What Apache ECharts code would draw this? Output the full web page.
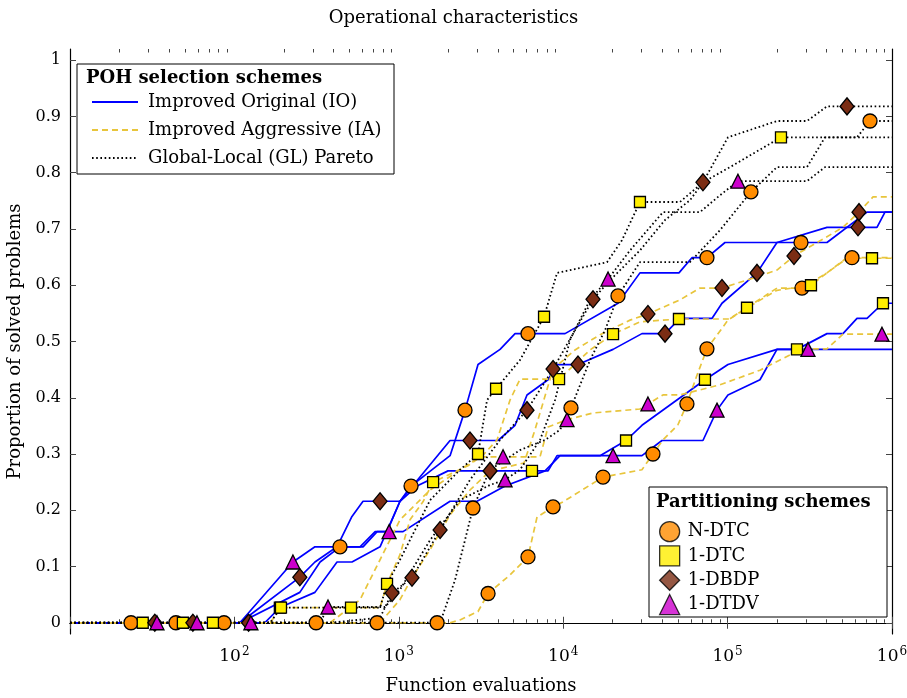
<!DOCTYPE html>
<html>
<head>
<meta charset="utf-8">
<script src="https://cdn.jsdelivr.net/npm/echarts@6/dist/echarts.min.js"></script>
<style>
  html, body { margin: 0; padding: 0; background: #fff; }
  #chart { width: 907px; height: 698px; }
</style>
</head>
<body>
<div id="chart"></div>
<script>
// Proportion of solved problems vs. function evaluations, one curve per
// POH selection scheme (line style) and partitioning scheme (marker).

const yTickValues = [0, 0.1, 0.2, 0.3, 0.4, 0.5, 0.6, 0.7, 0.8, 0.9, 1];
const xMajorTicks = [10, 100, 1000, 10000, 100000, 1000000];
const xTickLabels = [100, 1000, 10000, 100000, 1000000];

// Improved Original (IO)
const ioNdtc = [[10,0],[23.5,0],[108,0],[250,0.054],[332,0.108],[439,0.135],[606,0.135],[738,0.162],[848,0.162],[1017,0.216],[1187,0.243],[2050,0.297],[2528,0.378],[3033,0.459],[4130,0.486],[5095,0.514],[6107,0.514],[10265,0.514],[21540,0.568],[29300,0.622],[50590,0.622],[60680,0.649],[74890,0.649],[96430,0.676],[279500,0.676],[402300,0.676],[704800,0.730],[1e6,0.730]];
const ioNdtcMarks = [1,5,10,12,16,22,24];
const ioDtc = [[10,0],[27.7,0],[153,0],[189,0.027],[309,0.054],[421,0.108],[519,0.108],[769,0.135],[1017,0.216],[1290,0.243],[1993,0.270],[6458,0.270],[8090,0.270],[9176,0.297],[16750,0.297],[24110,0.324],[30130,0.351],[72830,0.432],[100500,0.459],[199700,0.486],[264300,0.486],[402300,0.514],[503300,0.514],[612500,0.541],[704800,0.541],[881300,0.568],[1e6,0.568]];
const ioDtcMarks = [1,3,11,15,17,20,25];
const ioDbdp = [[10,0],[32.8,0],[108,0],[250,0.081],[309,0.108],[421,0.135],[519,0.189],[606,0.216],[769,0.216],[1017,0.216],[2050,0.324],[2710,0.324],[4016,0.324],[5095,0.351],[6022,0.405],[8090,0.432],[9176,0.459],[12300,0.459],[20100,0.486],[30130,0.514],[41620,0.514],[51300,0.541],[80320,0.541],[92450,0.568],[150900,0.622],[199700,0.676],[402300,0.703],[621200,0.703],[810200,0.703],[906300,0.730],[1e6,0.730]];
const ioDbdpMarks = [1,3,8,11,17,20,24,27];
const ioDtdv = [[10,0],[33.8,0],[108,0],[227,0.108],[309,0.135],[581,0.135],[718,0.162],[873,0.162],[1061,0.162],[2050,0.216],[2991,0.216],[4430,0.243],[7755,0.270],[9570,0.297],[20100,0.297],[30130,0.297],[39900,0.324],[70810,0.324],[86200,0.378],[100500,0.405],[157400,0.432],[199700,0.486],[308200,0.486],[1e6,0.486]];
const ioDtdvMarks = [1,3,7,14,18,22];

// Improved Aggressive (IA)
const iaNdtc = [[10,0],[44.1,0],[314,0],[737,0],[1710,0],[2050,0],[2357,0.005],[3033,0.02],[3491,0.052],[4750,0.085],[6107,0.117],[6933,0.188],[8090,0.2],[8677,0.206],[9981,0.215],[17470,0.259],[30130,0.272],[35150,0.3],[40460,0.325],[49880,0.352],[56570,0.389],[65110,0.44],[74890,0.487],[100500,0.538],[199700,0.595],[283400,0.595],[402300,0.622],[532500,0.649],[571100,0.649],[1e6,0.649]];
const iaNdtcMarks = [1,2,3,4,8,10,13,15,17,20,22,25,28];
const iaDtc = [[10,0],[48.6,0],[165,0],[192,0.027],[512,0.027],[769,0.027],[848,0.069],[1017,0.121],[1170,0.183],[1403,0.215],[1617,0.25],[2635,0.279],[3253,0.298],[3960,0.325],[4750,0.396],[5460,0.433],[9437,0.433],[14560,0.485],[20100,0.513],[29300,0.535],[50590,0.54],[101960,0.54],[131200,0.56],[199700,0.591],[321500,0.6],[402300,0.622],[532500,0.648],[755900,0.648],[1e6,0.648]];
const iaDtcMarks = [1,3,4,6,10,16,18,20,22,24,27];
const iaDbdp = [[10,0],[55.9,0],[382,0],[769,0],[1017,0.041],[1203,0.08],[1550,0.13],[2050,0.192],[2710,0.236],[3590,0.27],[5775,0.284],[6736,0.343],[8677,0.451],[11800,0.485],[16750,0.512],[25500,0.538],[32770,0.549],[51300,0.574],[67900,0.595],[92450,0.595],[150900,0.615],[199700,0.627],[253400,0.652],[503300,0.703],[629900,0.73],[766500,0.757],[1e6,0.757]];
const iaDbdpMarks = [1,5,9,12,16,19,22,24];
const iaDtdv = [[10,0],[59.2,0],[382,0],[581,0.041],[769,0.112],[1017,0.183],[1550,0.236],[2357,0.272],[3119,0.295],[4307,0.295],[7230,0.295],[8090,0.348],[10550,0.361],[15180,0.373],[29300,0.38],[32770,0.389],[40460,0.405],[51300,0.405],[89900,0.423],[157400,0.449],[239600,0.476],[308200,0.487],[402300,0.487],[503300,0.513],[869000,0.513],[1e6,0.513]];
const iaDtdvMarks = [1,9,12,15,24];

// Global-Local (GL) Pareto
const glNdtc = [[10,0],[86.4,0],[1783,0],[2199,0.076],[2826,0.204],[3590,0.272],[5460,0.307],[7755,0.325],[9570,0.343],[11150,0.382],[14560,0.467],[17970,0.52],[21540,0.581],[29300,0.641],[59000,0.641],[89900,0.698],[138700,0.766],[199700,0.81],[304000,0.81],[391200,0.863],[612500,0.863],[735000,0.892],[1e6,0.892]];
const glNdtcMarks = [1,4,9,12,16,21];
const glDtc = [[10,0],[74,0],[165,0],[192,0.027],[769,0.027],[848,0.069],[1017,0.112],[1550,0.218],[2357,0.272],[3033,0.3],[3442,0.396],[3905,0.416],[5460,0.467],[7646,0.544],[9176,0.622],[18480,0.641],[22780,0.68],[29300,0.748],[51300,0.748],[70810,0.783],[103400,0.81],[211200,0.863],[1e6,0.863]];
const glDtcMarks = [1,9,11,13,17,21];
const glDbdp = [[10,0],[122,0],[382,0],[769,0.009],[910,0.053],[1203,0.08],[1783,0.165],[2710,0.254],[4130,0.325],[6022,0.378],[8677,0.451],[11800,0.52],[15180,0.575],[19270,0.609],[29300,0.662],[41620,0.716],[59000,0.751],[70810,0.783],[100500,0.863],[199700,0.892],[304000,0.892],[402300,0.918],[532500,0.918],[1e6,0.918]];
const glDbdpMarks = [1,4,6,9,12,17,22];
const glDtdv = [[10,0],[126,0],[332,0],[371,0.028],[825,0.028],[1017,0.059],[1550,0.147],[2357,0.218],[3590,0.245],[4430,0.254],[5460,0.272],[7230,0.325],[8924,0.396],[11000,0.503],[14560,0.574],[18740,0.611],[25500,0.662],[40460,0.73],[67900,0.73],[89900,0.76],[115600,0.785],[304000,0.785],[391200,0.81],[1e6,0.81]];
const glDtdvMarks = [1,3,9,15,20];

const FONT = 'DejaVu Serif';

const POH = [
  { name: 'Improved Original (IO)',   color: '#0000ff', type: 'solid', width: 1.7, cap: 'butt' },
  { name: 'Improved Aggressive (IA)', color: '#e8c53c', type: [6, 4],  width: 1.7, cap: 'butt' },
  { name: 'Global-Local (GL) Pareto', color: '#000000', type: [1.6, 2.6], width: 1.8, cap: 'butt' }
];
const PART = [
  { name: 'N-DTC',  symbol: 'circle',   size: 14,       fill: '#ff8c00' },
  { name: '1-DTC',  symbol: 'rect',     size: 11,       fill: '#ffee00' },
  { name: '1-DBDP', symbol: 'diamond',  size: [14, 17], fill: '#7b2d14' },
  { name: '1-DTDV', symbol: 'triangle', size: 14,       fill: '#cc00cc' }
];

const curves = [
  [ioNdtc, ioNdtcMarks, 0, 0], [ioDtc, ioDtcMarks, 0, 1], [ioDbdp, ioDbdpMarks, 0, 2], [ioDtdv, ioDtdvMarks, 0, 3],
  [iaNdtc, iaNdtcMarks, 1, 0], [iaDtc, iaDtcMarks, 1, 1], [iaDbdp, iaDbdpMarks, 1, 2], [iaDtdv, iaDtdvMarks, 1, 3],
  [glNdtc, glNdtcMarks, 2, 0], [glDtc, glDtcMarks, 2, 1], [glDbdp, glDbdpMarks, 2, 2], [glDtdv, glDtdvMarks, 2, 3]
];

const series = curves.map(([pts, marks, p, m]) => {
  const ls = POH[p], mk = PART[m];
  return {
    type: 'line',
    xAxisIndex: 0, yAxisIndex: 0,
    data: pts.map((pt, i) => marks.includes(i) ? { value: pt } : { value: pt, symbol: 'none' }),
    symbol: mk.symbol,
    symbolSize: mk.size,
    itemStyle: { color: mk.fill, borderColor: '#000', borderWidth: 1.3 },
    lineStyle: { color: ls.color, width: ls.width, type: ls.type, cap: ls.cap },
    emphasis: { disabled: true },
    legendHoverLink: false,
    silent: true
  };
});

// Legend entries: one line style per POH scheme, one marker per partitioning scheme
POH.forEach(ls => series.push({
  name: ls.name, type: 'line', data: [], symbol: 'none', symbolSize: 0,
  lineStyle: { color: ls.color, width: ls.width, type: ls.type },
  itemStyle: { color: ls.color, opacity: 0 }
}));
PART.forEach(mk => series.push({
  name: mk.name, type: 'scatter', data: [], symbol: mk.symbol,
  itemStyle: { color: mk.fill, borderColor: '#000', borderWidth: 1.3 }
}));

const xMinorTicks = [];
for (let e = 1; e < 6; e++) for (let k = 2; k <= 9; k++) xMinorTicks.push(k * Math.pow(10, e));

const tickLine = { color: '#444', width: 1 };
const xBase = { type: 'log', logBase: 10, min: 10, max: 1e6, splitLine: { show: false } };
const yBase = { type: 'value', min: -0.02, max: 1.02, splitLine: { show: false } };
const gridRect = { left: 70, right: 15, top: 49, bottom: 64, containLabel: false, outerBoundsMode: 'none' };

const option = {
  animation: false,
  backgroundColor: '#fff',
  title: {
    text: 'Operational characteristics', left: 'center', top: 4,
    textStyle: { fontFamily: FONT, fontSize: 18, fontWeight: 'normal', color: '#000' }
  },
  grid: [ { ...gridRect }, { ...gridRect } ],
  xAxis: [
    { ...xBase, gridIndex: 0, position: 'bottom',
      axisLine: { show: true, lineStyle: { color: '#000', width: 1.2 } },
      axisTick: { show: true, inside: true, length: 6, customValues: xMajorTicks, lineStyle: tickLine },
      axisLabel: {
        customValues: xTickLabels, margin: 12, color: '#000', fontFamily: FONT, fontSize: 17,
        formatter: v => '10{s|' + Math.round(Math.log10(v)) + '}',
        rich: { s: { fontFamily: FONT, fontSize: 12, padding: [0, 0, 10, 1], color: '#000' } }
      },
      name: 'Function evaluations', nameLocation: 'middle', nameGap: 43,
      nameTextStyle: { fontFamily: FONT, fontSize: 18, color: '#000' }
    },
    { ...xBase, gridIndex: 0, position: 'top',
      axisLine: { show: true, lineStyle: { color: '#000', width: 1.2 } },
      axisTick: { show: true, inside: true, length: 6, customValues: xMajorTicks, lineStyle: tickLine },
      axisLabel: { show: false } },
    { ...xBase, gridIndex: 1, position: 'bottom',
      axisLine: { show: false },
      axisTick: { show: true, inside: true, length: 3.5, customValues: xMinorTicks, lineStyle: tickLine },
      axisLabel: { show: false } },
    { ...xBase, gridIndex: 1, position: 'top',
      axisLine: { show: false },
      axisTick: { show: true, inside: true, length: 3.5, customValues: xMinorTicks, lineStyle: tickLine },
      axisLabel: { show: false } }
  ],
  yAxis: [
    { ...yBase, gridIndex: 0, position: 'left',
      axisLine: { show: true, lineStyle: { color: '#000', width: 1.2 } },
      axisTick: { show: true, inside: true, length: 6, customValues: yTickValues, lineStyle: tickLine },
      axisLabel: {
        customValues: yTickValues, margin: 9, color: '#000', fontFamily: FONT, fontSize: 16,
        formatter: v => (v === 0 || v === 1) ? String(v) : v.toFixed(1)
      },
      name: 'Proportion of solved problems', nameLocation: 'middle', nameGap: 45,
      nameTextStyle: { fontFamily: FONT, fontSize: 18, color: '#000' }
    },
    { ...yBase, gridIndex: 0, position: 'right',
      axisLine: { show: true, lineStyle: { color: '#000', width: 1.2 } },
      axisTick: { show: true, inside: true, length: 6, customValues: yTickValues, lineStyle: tickLine },
      axisLabel: { show: false } },
    { ...yBase, gridIndex: 1, show: false }
  ],
  legend: [
    {
      data: POH.map(p => p.name), orient: 'vertical', left: 86, top: 87,
      itemWidth: 46, itemHeight: 14, itemGap: 8, selectedMode: false, z: 20,
      itemStyle: { opacity: 0 },
      textStyle: { fontFamily: FONT, fontSize: 18, color: '#000', lineHeight: 20, padding: [0, 0, 0, 5] }
    },
    {
      data: PART.map(p => p.name), orient: 'vertical', left: 654, top: 516,
      itemWidth: 20, itemHeight: 20, itemGap: 3, selectedMode: false, z: 20,
      itemStyle: { borderColor: '#000', borderWidth: 1.3 },
      textStyle: { fontFamily: FONT, fontSize: 18, color: '#000', lineHeight: 20, padding: [0, 0, 0, 3] }
    }
  ],
  graphic: [
    { type: 'rect', z: 15, shape: { x: 77, y: 64, width: 317, height: 110 },
      style: { fill: '#fff', stroke: '#000', lineWidth: 1 } },
    { type: 'text', z: 21, left: 86, top: 69,
      style: { text: 'POH selection schemes', fontFamily: FONT, fontSize: 18, fontWeight: 'bold', fill: '#000' } },
    { type: 'rect', z: 15, shape: { x: 649, y: 487, width: 238, height: 130 },
      style: { fill: '#fff', stroke: '#000', lineWidth: 1 } },
    { type: 'text', z: 21, left: 656, top: 493,
      style: { text: 'Partitioning schemes', fontFamily: FONT, fontSize: 18, fontWeight: 'bold', fill: '#000' } }
  ],
  series: series
};

const chart = echarts.init(document.getElementById('chart'), null, { renderer: 'canvas' });
chart.setOption(option);
</script>
</body>
</html>
